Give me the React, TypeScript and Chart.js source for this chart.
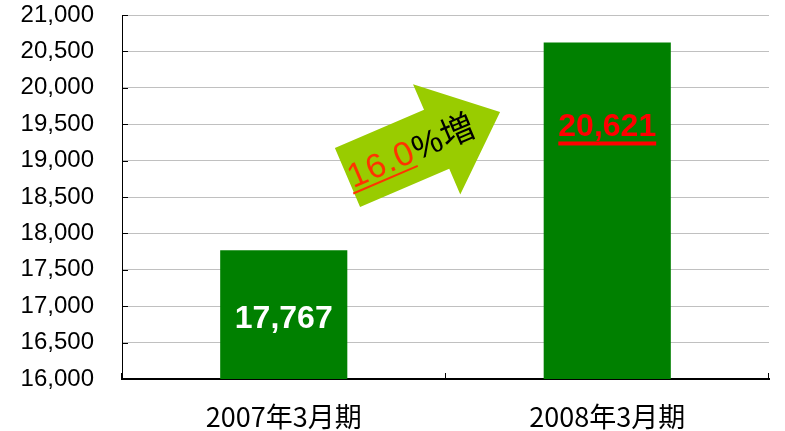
import React, { useEffect, useRef } from "react";
import { Chart, registerables } from "chart.js";

Chart.register(...registerables);

const categories = ["2007年3月期", "2008年3月期"];
const sales = [17767, 20621];
const yMin = 16000;
const yMax = 21000;
const yStep = 500;
const growthValue = "16.0";
const growthSuffix = "%増";

const fmt = (v: number) => v.toLocaleString("en-US");

export default function App() {
  const ref = useRef<HTMLCanvasElement>(null);
  useEffect(() => {
    document.body.style.margin = "0";
    const annot = {
      id: "annot",
      afterDatasetsDraw(chart: any) {
        const ctx = chart.ctx as CanvasRenderingContext2D;
        const x = chart.scales.x;
        const y = chart.scales.y;
        const a = chart.chartArea;
        ctx.save();
        // inner tick marks
        ctx.strokeStyle = "#000";
        ctx.lineWidth = 1;
        ctx.beginPath();
        for (let v = yMin; v <= yMax; v += yStep) {
          const py = Math.round(y.getPixelForValue(v)) + 0.5;
          ctx.moveTo(a.left, py);
          ctx.lineTo(a.left + 6, py);
        }
        for (let i = -0.5; i <= categories.length - 0.5; i += 1) {
          const px = Math.round(x.getPixelForValue(i)) - 0.5;
          ctx.moveTo(px, a.bottom);
          ctx.lineTo(px, a.bottom - 6);
        }
        ctx.stroke();

        // value labels
        ctx.textAlign = "center";
        ctx.textBaseline = "middle";
        ctx.font = "bold 32px 'Liberation Sans', Arial, sans-serif";
        ctx.fillStyle = "#ffffff";
        ctx.fillText(fmt(sales[0]), x.getPixelForValue(0), y.getPixelForValue(16820));

        const t2 = fmt(sales[1]);
        const cx2 = x.getPixelForValue(1);
        const cy2 = y.getPixelForValue(19455);
        ctx.fillStyle = "#ff0000";
        ctx.fillText(t2, cx2, cy2);
        const w2 = ctx.measureText(t2).width;
        ctx.fillRect(cx2 - w2 / 2, cy2 + 14, w2, 4);

        // arrow
        const ox = x.getPixelForValue(0.197);
        const oy = y.getPixelForValue(18768);
        ctx.translate(ox, oy);
        ctx.rotate((-23.2 * Math.PI) / 180);
        ctx.beginPath();
        ctx.moveTo(0, -32);
        ctx.lineTo(97, -32);
        ctx.lineTo(97, -60);
        ctx.lineTo(166, 0);
        ctx.lineTo(97, 60);
        ctx.lineTo(97, 32);
        ctx.lineTo(0, 32);
        ctx.closePath();
        ctx.fillStyle = "#99cc00";
        ctx.fill();

        ctx.textAlign = "left";
        ctx.textBaseline = "alphabetic";
        ctx.font = "34px 'Liberation Sans', 'Noto Sans CJK JP', sans-serif";
        try { (ctx as any).letterSpacing = "1px"; } catch (e) {}
        ctx.fillStyle = "#ff3300";
        ctx.fillText(growthValue, 1, 12);
        const gw = ctx.measureText(growthValue).width;
        ctx.fillRect(-1, 16, gw, 2);
        ctx.fillStyle = "#000000";
        ctx.fillText(growthSuffix, 1 + gw, 12);
        ctx.restore();
      },
    };

    const chart = new Chart(ref.current!, {
      type: "bar",
      data: {
        labels: categories,
        datasets: [
          {
            data: sales,
            backgroundColor: "#008000",
            borderWidth: 0,
            categoryPercentage: 1,
            barPercentage: 0.393,
          },
        ],
      },
      options: {
        animation: false,
        responsive: true,
        maintainAspectRatio: false,
        layout: { padding: { left: 0, right: 16, top: 15, bottom: 0 } },
        plugins: { legend: { display: false }, tooltip: { enabled: false } },
        scales: {
          x: {
            grid: { color: "transparent", drawTicks: false },
            border: { color: "#000", width: 2 },
            ticks: {
              color: "#000",
              padding: 22,
              font: { size: 27, family: "'Noto Sans CJK JP', sans-serif" },
            },
            afterFit: (s: any) => { s.height = 52; s.paddingLeft = 0; s.paddingRight = 0; },
          },
          y: {
            min: yMin,
            max: yMax,
            grid: { color: "#c0c0c0", drawTicks: false },
            border: { color: "#000", width: 1 },
            ticks: {
              stepSize: yStep,
              color: "#000",
              padding: 28,
              font: { size: 24, family: "'Liberation Sans', Arial, sans-serif" },
              callback: (v: any) => fmt(Number(v)),
            },
            afterFit: (s: any) => { s.width = 122; s.paddingTop = 0; s.paddingBottom = 0; },
          },
        },
      },
      plugins: [annot],
    });
    return () => chart.destroy();
  }, []);

  return (
    <div style={{ width: 785, height: 431, position: "relative" }}>
      <canvas ref={ref} />
    </div>
  );
}
